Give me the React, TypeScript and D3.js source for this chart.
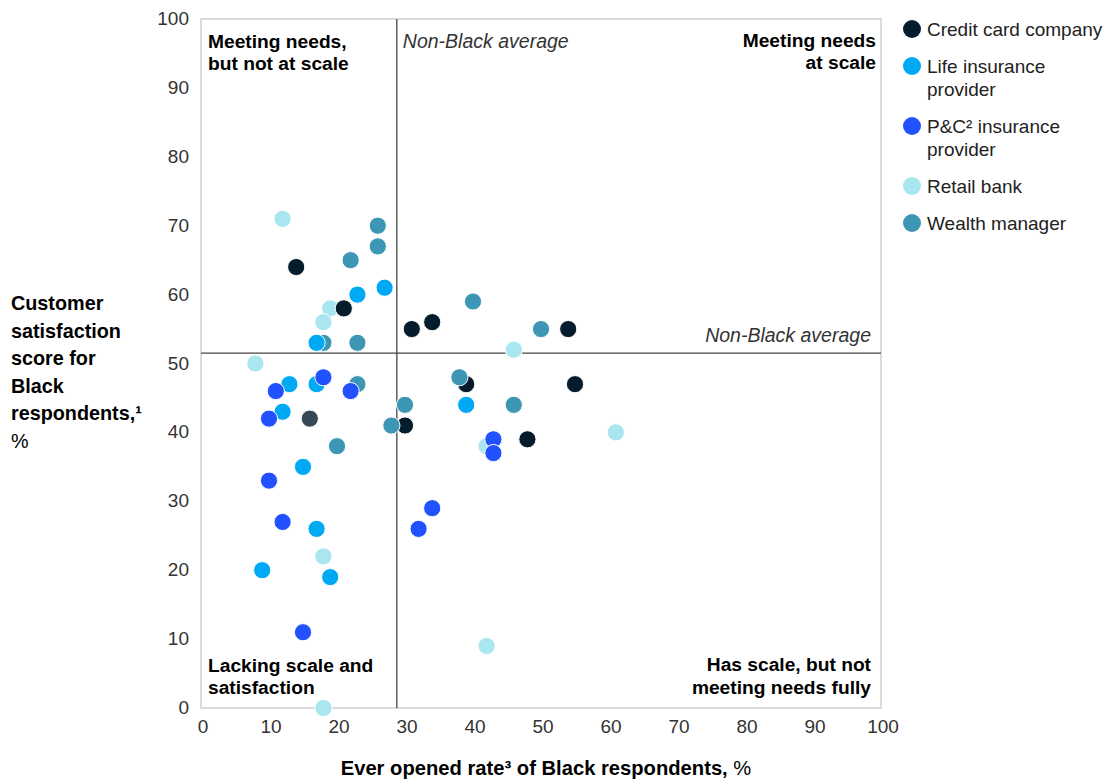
import React from "react";
import * as d3 from "d3";

// Ever opened rate (x, %) and customer satisfaction score (y, %) for Black respondents
const creditCard: [number, number][] = [
  [14, 64], [21, 58], [31, 55], [34, 56], [54, 55], [39, 47], [55, 47], [30, 41], [48, 39], [16, 42],
];
const lifeInsurance: [number, number][] = [
  [27, 61], [23, 60], [17, 53], [13, 47], [17, 47], [12, 43], [15, 35], [17, 26], [9, 20], [19, 19], [39, 44],
];
const pcInsurance: [number, number][] = [
  [18, 48], [11, 46], [22, 46], [10, 42], [10, 33], [12, 27], [15, 11], [34, 29], [32, 26], [43, 39], [43, 37],
];
const retailBank: [number, number][] = [
  [12, 71], [19, 58], [18, 56], [8, 50], [18, 22], [18, 0], [46, 52], [42, 38], [61, 40], [42, 9],
];
const wealthManager: [number, number][] = [
  [26, 70], [26, 67], [22, 65], [18, 53], [23, 53], [23, 47], [30, 44], [28, 41], [20, 38], [40, 59], [50, 55], [38, 48], [46, 44],
];

const seriesNames = ["Credit card company", "Life insurance provider", "P&C² insurance provider", "Retail bank", "Wealth manager"];
const legendLines = [["Credit card company"], ["Life insurance", "provider"], ["P&C² insurance", "provider"], ["Retail bank"], ["Wealth manager"]];
const seriesColors = ["#051c2c", "#00a9f4", "#2251ff", "#aae6f0", "#3c96b4"];
const seriesValues = [creditCard, lifeInsurance, pcInsurance, retailBank, wealthManager];
// painting order (later on top)
const drawOrder = [3, 0, 4, 1, 2];

const xTicks = [0, 10, 20, 30, 40, 50, 60, 70, 80, 90, 100];
const yTicks = [0, 10, 20, 30, 40, 50, 60, 70, 80, 90, 100];

const nonBlackAvgOpened = 28.8;
const nonBlackAvgSatisfaction = 51.5;

// one credit card point is shown faded
const fadedPoint = { series: 0, index: 9 };

const FONT = "'Liberation Sans', Arial, Helvetica, sans-serif";

export default function App() {
  const x = d3.scaleLinear().domain([0, 100]).range([201, 881]);
  const y = d3.scaleLinear().domain([0, 100]).range([708, 19]);

  // legend layout: baseline of first line per entry
  const legendBaselines: number[] = [];
  let b = 36;
  legendLines.forEach((lines) => {
    legendBaselines.push(b);
    b += 37 + 23 * (lines.length - 1);
  });

  const quadLabel = { fontFamily: FONT, fontSize: 19.2, fontWeight: 700, fill: "#000" } as const;

  return (
    <svg
      width={1112}
      height={779}
      style={{ position: "fixed", left: 0, top: 0, background: "#fff" }}
      fontFamily={FONT}
    >
      {/* plot frame */}
      <rect x={x(0)} y={y(100)} width={x(100) - x(0)} height={y(0) - y(100)} fill="none" stroke="#d0d0d0" strokeWidth={1.5} />

      {/* tick labels */}
      {xTicks.map((t) => (
        <text key={"x" + t} x={x(t) + 2} y={733} textAnchor="middle" fontSize={19} fill="#333">
          {t}
        </text>
      ))}
      {yTicks.map((t) => (
        <text key={"y" + t} x={189} y={y(t) + 6} textAnchor="end" fontSize={19} fill="#333">
          {t}
        </text>
      ))}

      {/* average reference lines */}
      <line x1={x(nonBlackAvgOpened)} x2={x(nonBlackAvgOpened)} y1={y(100)} y2={y(0)} stroke="#444" strokeWidth={1.3} />
      <line x1={x(0)} x2={x(100)} y1={y(nonBlackAvgSatisfaction)} y2={y(nonBlackAvgSatisfaction)} stroke="#444" strokeWidth={1.3} />
      <text x={x(nonBlackAvgOpened) + 6} y={48} fontSize={19.5} fontStyle="italic" fill="#333">
        Non-Black average
      </text>
      <text x={871} y={y(nonBlackAvgSatisfaction) - 11} fontSize={19.5} fontStyle="italic" fill="#333" textAnchor="end">
        Non-Black average
      </text>

      {/* quadrant labels */}
      <text {...quadLabel}>
        <tspan x={208} y={48}>Meeting needs,</tspan>
        <tspan x={208} y={70}>but not at scale</tspan>
      </text>
      <text {...quadLabel} textAnchor="end">
        <tspan x={876} y={47}>Meeting needs</tspan>
        <tspan x={876} y={69}>at scale</tspan>
      </text>
      <text {...quadLabel}>
        <tspan x={208} y={672}>Lacking scale and</tspan>
        <tspan x={208} y={694}>satisfaction</tspan>
      </text>
      <text {...quadLabel} textAnchor="end">
        <tspan x={871} y={671}>Has scale, but not</tspan>
        <tspan x={871} y={694}>meeting needs fully</tspan>
      </text>

      {/* points */}
      {drawOrder.map((si) => (
        <g key={seriesNames[si]}>
          {seriesValues[si].map(([vx, vy], i) => (
            <circle
              key={i}
              cx={x(vx)}
              cy={y(vy)}
              r={8.6}
              fill={seriesColors[si]}
              fillOpacity={si === fadedPoint.series && i === fadedPoint.index ? 0.8 : 1}
              stroke="#fff"
              strokeWidth={1}
            />
          ))}
        </g>
      ))}

      {/* legend */}
      {legendLines.map((lines, i) => (
        <g key={"lg" + i}>
          <circle cx={912} cy={legendBaselines[i] - 7} r={9} fill={seriesColors[i]} />
          <text fontSize={19} fill="#222">
            {lines.map((ln, j) => (
              <tspan key={j} x={927} y={legendBaselines[i] + 23 * j}>
                {ln}
              </tspan>
            ))}
          </text>
        </g>
      ))}

      {/* y axis title */}
      <text fontSize={19.8} fill="#000">
        {["Customer", "satisfaction", "score for", "Black", "respondents,¹"].map((ln, j) => (
          <tspan key={j} x={11} y={310 + 27.5 * j} fontWeight={700}>
            {ln}
          </tspan>
        ))}
        <tspan x={11} y={310 + 27.5 * 5}>%</tspan>
      </text>

      {/* x axis title */}
      <text x={546} y={775} textAnchor="middle" fontSize={20.2} fill="#000">
        <tspan fontWeight={700}>Ever opened rate³ of Black respondents,</tspan>
        <tspan> %</tspan>
      </text>
    </svg>
  );
}
